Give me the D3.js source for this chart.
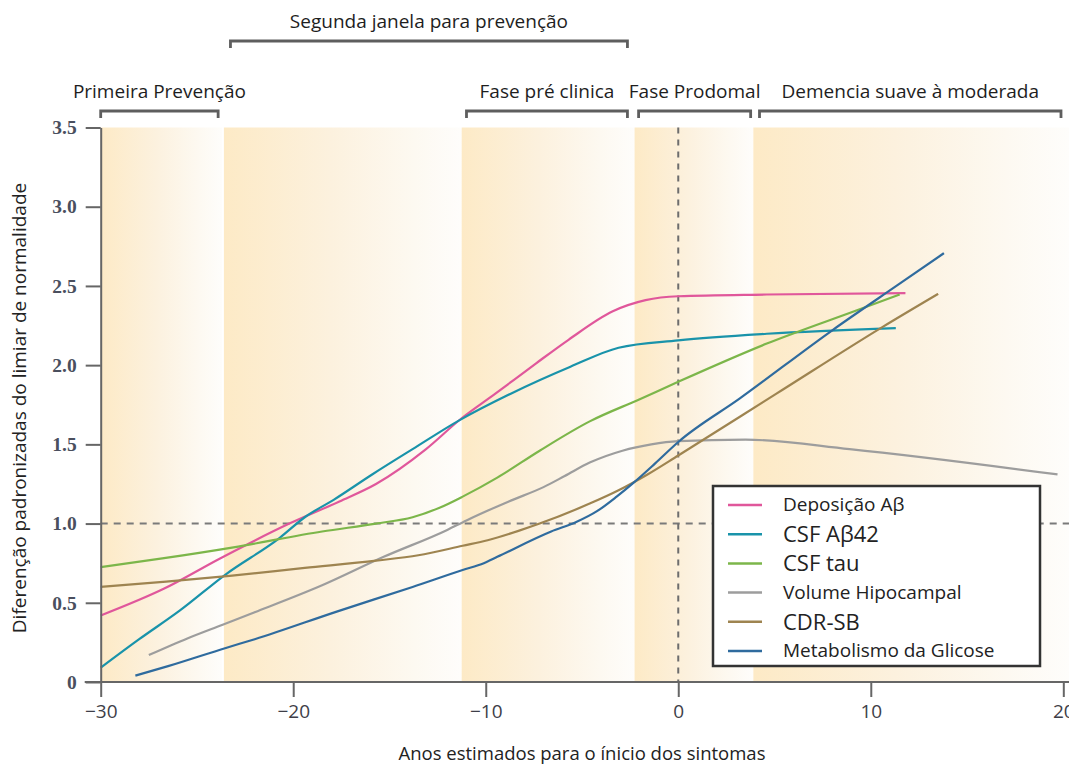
<!DOCTYPE html>
<html>
<head>
<meta charset="utf-8">
<script src="https://cdn.jsdelivr.net/npm/d3@7"></script>
<style>
  body { margin: 0; background: #fff; }
  svg { display: block; }
  text { font-family: "Open Sans", sans-serif; }
</style>
</head>
<body>
<svg id="chart" width="1069" height="767"></svg>
<script>
// curves: [years to symptom onset, standardized difference]
const deposicaoAB = [[-30,0.42],[-26.7,0.59],[-23.8,0.78],[-20.2,1.0],[-17.6,1.14],[-15.7,1.25],[-13.1,1.47],[-11.3,1.66],[-9.5,1.82],[-7.4,2.01],[-5.7,2.16],[-3.4,2.34],[-1.7,2.41],[0,2.435],[4.6,2.446],[11.8,2.455]];
const csfAB42 = [[-30,0.09],[-28,0.27],[-25.9,0.45],[-23.5,0.68],[-20.7,0.91],[-19.4,1.04],[-17.9,1.15],[-15.9,1.31],[-13.8,1.47],[-11.4,1.65],[-8.7,1.82],[-5.6,1.99],[-3.1,2.11],[0,2.156],[4.6,2.198],[11.3,2.234]];
const csfTau = [[-30,0.725],[-26.8,0.78],[-23.1,0.85],[-18.5,0.95],[-15.7,1.0],[-13.8,1.04],[-12.4,1.1],[-11.2,1.17],[-9.4,1.29],[-7.2,1.46],[-4.6,1.645],[-2,1.785],[0,1.895],[4.6,2.136],[9.25,2.345],[11.5,2.446]];
const volumeHipocampal = [[-27.5,0.17],[-25.5,0.275],[-23.7,0.36],[-22,0.44],[-18.5,0.61],[-15.3,0.79],[-12,0.96],[-11,1.02],[-8.8,1.14],[-7,1.23],[-5.9,1.3],[-4.6,1.385],[-2.9,1.46],[-1.4,1.5],[0,1.52],[3.5,1.53],[8.9,1.47],[19.7,1.31]];
const cdrSB = [[-30,0.6],[-26.6,0.634],[-23.3,0.67],[-19.4,0.72],[-15.7,0.766],[-13.5,0.8],[-11.2,0.86],[-9.9,0.895],[-8.3,0.954],[-7.2,1.0],[-4.6,1.126],[-3.1,1.21],[-1.6,1.31],[0,1.43],[5.1,1.82],[10.6,2.24],[13.5,2.45]];
const metabolismoGlicose = [[-28.2,0.04],[-26.5,0.1],[-23.5,0.215],[-22,0.27],[-17.7,0.446],[-13.8,0.6],[-11.2,0.707],[-10.1,0.75],[-9.4,0.79],[-6.6,0.95],[-5.3,1.01],[-4.2,1.08],[-3.2,1.17],[-2.3,1.26],[-1.2,1.38],[0,1.515],[3.2,1.79],[8,2.22],[11.5,2.514],[13.8,2.707]];

const seriesNames = ["Deposição Aβ", "CSF Aβ42", "CSF tau", "Volume Hipocampal", "CDR-SB", "Metabolismo da Glicose"];
const seriesData = [deposicaoAB, csfAB42, csfTau, volumeHipocampal, cdrSB, metabolismoGlicose];
const seriesColors = ["#e0579b", "#1993aa", "#7cb64a", "#9d9d9d", "#9e8450", "#2f6b9e"];
const legendSizes = [19, 22, 22, 19, 22, 19];

const xTicks = [-30, -20, -10, 0, 10, 20];
const yTicks = [0, 0.5, 1.0, 1.5, 2.0, 2.5, 3.0, 3.5];

// shaded background bands (years)
const bandStart = [-30, -23.6, -11.25, -2.27, 3.9];
const bandEnd = [-23.7, -11.25, -2.27, 3.9, 20.3];

// phase brackets (years)
const phaseNames = ["Primeira Prevenção", "Fase pré clinica", "Fase Prodomal", "Demencia suave à moderada"];
const phaseStart = [-30, -11.0, -2.06, 4.22];
const phaseEnd = [-23.9, -2.64, 3.76, 19.88];
const windowName = "Segunda janela para prevenção";
const windowRange = [-23.26, -2.64];

const svg = d3.select("#chart");
const x = d3.scaleLinear().domain([-30, 20]).range([100.7, 1063.3]);
const y = d3.scaleLinear().domain([0, 3.5]).range([682, 127.5]);

// gradient for bands
const defs = svg.append("defs");
const grad = defs.append("linearGradient").attr("id", "band").attr("x1", 0).attr("x2", 1);
grad.append("stop").attr("offset", "0%").attr("stop-color", "#fdeac6");
grad.append("stop").attr("offset", "45%").attr("stop-color", "#fcf1de");
grad.append("stop").attr("offset", "80%").attr("stop-color", "#fdf9f1");
grad.append("stop").attr("offset", "100%").attr("stop-color", "#fefdfb");

svg.append("g").selectAll("rect")
  .data(bandStart)
  .join("rect")
  .attr("x", (d) => x(d))
  .attr("y", y(3.5))
  .attr("width", (d, i) => x(bandEnd[i]) - x(d))
  .attr("height", y(0) - y(3.5))
  .attr("fill", "url(#band)");

// reference lines
svg.append("line")
  .attr("x1", x(-30)).attr("x2", 1069)
  .attr("y1", y(1)).attr("y2", y(1))
  .attr("stroke", "#7a7a7a").attr("stroke-width", 2).attr("stroke-dasharray", "7,6");
svg.append("line")
  .attr("x1", x(0)).attr("x2", x(0))
  .attr("y1", y(3.5)).attr("y2", y(0))
  .attr("stroke", "#6d6d6d").attr("stroke-width", 2).attr("stroke-dasharray", "6,6");

// curves
const line = d3.line()
  .x((d) => x(d[0]))
  .y((d) => y(d[1]))
  .curve(d3.curveMonotoneX);

svg.append("g").selectAll("path")
  .data(seriesData)
  .join("path")
  .attr("d", line)
  .attr("fill", "none")
  .attr("stroke", (d, i) => seriesColors[i])
  .attr("stroke-width", 2.2);

// axes
const yAxis = svg.append("g")
  .attr("transform", `translate(${x(-30)},0)`)
  .call(d3.axisLeft(y).tickValues(yTicks).tickSize(15).tickSizeOuter(0).tickPadding(9)
    .tickFormat((d) => d === 0 ? "0" : d3.format(".1f")(d)));
yAxis.selectAll("line, path").attr("stroke", "#666").attr("stroke-width", 2);
yAxis.selectAll("text")
  .style("font-family", "'Liberation Serif', serif")
  .style("font-weight", "bold")
  .style("font-size", "19.5px")
  .attr("fill", "#4a4f5e");

const xAxis = svg.append("g")
  .attr("transform", `translate(0,${y(0)})`)
  .call(d3.axisBottom(x).tickValues(xTicks).tickSize(15).tickSizeOuter(0).tickPadding(8));
xAxis.select(".domain").remove();
xAxis.selectAll("line").attr("stroke", "#666").attr("stroke-width", 2);
xAxis.selectAll("text")
  .style("font-family", "'Liberation Sans Narrow', 'Open Sans', sans-serif")
  .style("font-size", "19px")
  .attr("fill", "#3e3e48");
xAxis.append("line")
  .attr("x1", x(-30) - 16).attr("x2", 1069)
  .attr("stroke", "#666").attr("stroke-width", 2);

// axis titles
svg.append("text")
  .attr("x", 582).attr("y", 760)
  .attr("text-anchor", "middle")
  .style("font-size", "18.5px")
  .attr("fill", "#222")
  .text("Anos estimados para o ínicio dos sintomas");

svg.append("text")
  .attr("transform", `translate(26,${408}) rotate(-90)`)
  .attr("text-anchor", "middle")
  .style("font-size", "19px")
  .attr("fill", "#222")
  .text("Diferenção padronizadas do limiar de normalidade");

// brackets
function bracket(g, x0, x1, yy, label) {
  g.append("path")
    .attr("d", `M${x0},${yy + 7}V${yy}H${x1}V${yy + 7}`)
    .attr("fill", "none")
    .attr("stroke", "#5e5e5e")
    .attr("stroke-width", 2.8);
  g.append("text")
    .attr("x", (x0 + x1) / 2)
    .attr("y", yy - 13)
    .attr("text-anchor", "middle")
    .style("font-size", "19px")
    .attr("fill", "#1e1e1e")
    .text(label);
}
const brackets = svg.append("g");
phaseNames.forEach((name, i) => bracket(brackets, x(phaseStart[i]), x(phaseEnd[i]), 111, name));
bracket(brackets, x(windowRange[0]), x(windowRange[1]), 41, windowName);

// legend
const legend = svg.append("g").attr("transform", "translate(713,486)");
legend.append("rect")
  .attr("width", 327).attr("height", 180)
  .attr("fill", "#fff").attr("stroke", "#333").attr("stroke-width", 2.5);
const items = legend.selectAll("g.item")
  .data(seriesNames)
  .join("g")
  .attr("class", "item")
  .attr("transform", (d, i) => `translate(0,${19 + i * 29.2})`);
items.append("line")
  .attr("x1", 15).attr("x2", 49)
  .attr("stroke", (d, i) => seriesColors[i])
  .attr("stroke-width", 2.5);
items.append("text")
  .attr("x", 70)
  .attr("y", (d, i) => legendSizes[i] > 20 ? 8 : 6)
  .style("font-size", (d, i) => legendSizes[i] + "px")
  .attr("fill", "#222")
  .text((d) => d);
</script>
</body>
</html>
